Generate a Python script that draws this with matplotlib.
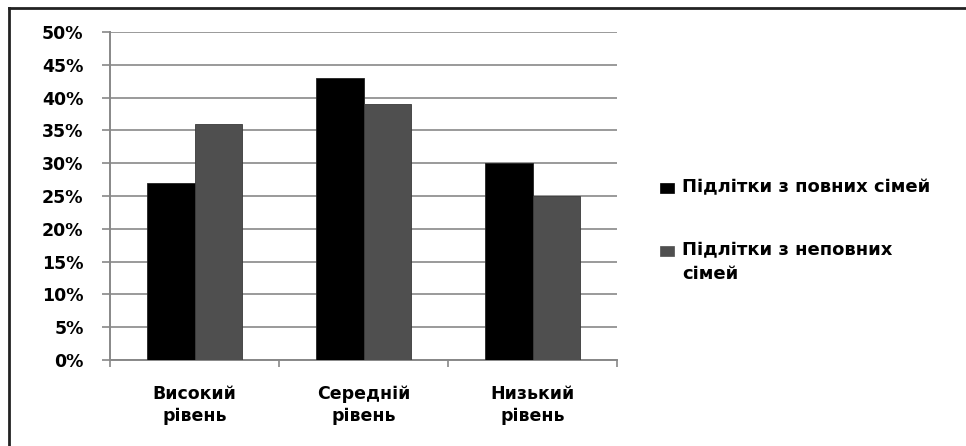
import matplotlib
matplotlib.use("Agg")
import matplotlib.pyplot as plt
from matplotlib.lines import Line2D
from matplotlib.patches import Rectangle
import numpy as np

categories = ["Високий\nрівень", "Середній\nрівень", "Низький\nрівень"]
series_names = ["Підлітки з повних сімей", "Підлітки з неповних\nсімей"]
full_families = [27, 43, 30]
incomplete_families = [36, 39, 25]
y_ticks = [0, 5, 10, 15, 20, 25, 30, 35, 40, 45, 50]
y_tick_labels = [f"{v}%" for v in y_ticks]
series_colors = ["#000000", "#4f4f4f"]

plt.rcParams['font.family'] = ['DejaVu Sans']
plt.rcParams['font.weight'] = 'bold'

W, H = 966, 446
fig = plt.figure(figsize=(W/100, H/100), dpi=100)
ax = fig.add_axes([110/W, 1-360/H, (617-110)/W, (360-32)/H])

x = np.arange(len(categories))
w = 0.28
ax.bar(x - w/2, full_families, width=w, color=series_colors[0], edgecolor="#222222", linewidth=0.6, zorder=3)
ax.bar(x + w/2, incomplete_families, width=w, color=series_colors[1], edgecolor="#3a3a3a", linewidth=0.6, zorder=3)

ax.set_xlim(-0.5, 2.5)
ax.set_ylim(0, 50)
ax.set_yticks(y_ticks)
ax.set_yticklabels(y_tick_labels, fontsize=12.5, fontweight='bold')
ax.yaxis.grid(True, color="#9a9a9a", linewidth=1.4, zorder=0)
ax.set_axisbelow(True)

ax.set_xticks(x)
ax.set_xticklabels(categories, fontsize=12.5, fontweight='bold', linespacing=1.3)
ax.tick_params(axis='x', which='major', length=0, pad=18)
ax.set_xticks([-0.5, 0.5, 1.5, 2.5], minor=True)
ax.tick_params(axis='x', which='minor', length=5, width=1.2, color="#888888", direction='out')
ax.tick_params(axis='y', length=6, width=1.2, color="#888888", pad=13)

for s in ['top', 'right']:
    ax.spines[s].set_visible(False)
for s in ['left', 'bottom']:
    ax.spines[s].set_color("#888888")
    ax.spines[s].set_linewidth(1.4)

# legend (drawn manually so the handle aligns with the first label line)
legend_rows = [188, 251]
for name, color, yc in zip(series_names, series_colors, legend_rows):
    fig.add_artist(Rectangle((660/W, 1-(yc+5)/H), 14/W, 10/H, transform=fig.transFigure,
                             facecolor=color, edgecolor=color, linewidth=0.5))
    fig.text(682/W, 1-(yc-10)/H, name, transform=fig.transFigure, ha='left', va='top',
             fontsize=13, fontweight='bold', linespacing=1.45)

# outer frame (left and top edges)
fig.add_artist(Line2D([9/W, 9/W], [0, 1-8/H], transform=fig.transFigure, color="#222222", linewidth=2))
fig.add_artist(Line2D([9/W, 1], [1-8/H, 1-8/H], transform=fig.transFigure, color="#222222", linewidth=2))

fig.savefig("out.png", dpi=100)
